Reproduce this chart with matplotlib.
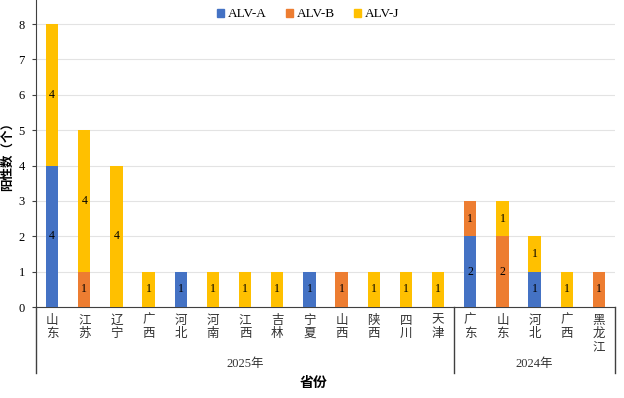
import numpy as np
import matplotlib
matplotlib.use("Agg")
import matplotlib.pyplot as plt
from matplotlib.patches import Patch
import matplotlib.transforms as mtransforms

plt.rcParams['font.family'] = ['Liberation Serif', 'Noto Sans CJK SC']

# data
provinces = ["山东", "江苏", "辽宁", "广西", "河北", "河南", "江西", "吉林", "宁夏",
             "山西", "陕西", "四川", "天津",
             "广东", "山东", "河北", "广西", "黑龙江"]
years = ["2025年", "2024年"]
year_counts = [13, 5]
alv_a = [4, 0, 0, 0, 1, 0, 0, 0, 1, 0, 0, 0, 0, 2, 0, 1, 0, 0]
alv_b = [0, 1, 0, 0, 0, 0, 0, 0, 0, 1, 0, 0, 0, 1, 2, 0, 0, 1]
alv_j = [4, 4, 4, 1, 0, 1, 1, 1, 0, 0, 1, 1, 1, 0, 1, 1, 1, 0]
series = [("ALV-A", alv_a, "#4472C4"), ("ALV-B", alv_b, "#ED7D31"), ("ALV-J", alv_j, "#FFC000")]

fig = plt.figure(figsize=(6.24, 3.98), dpi=100)
ax = fig.add_axes([36 / 624, 91 / 398, 579 / 624, 307 / 398])

x = np.arange(len(provinces))
bottom = np.zeros(len(provinces))
for name, vals, col in series:
    vals = np.array(vals)
    ax.bar(x, vals, 0.38, bottom=bottom, color=col, zorder=3)
    for xi, b, v in zip(x, bottom, vals):
        if v > 0:
            ax.text(xi, b + v / 2, str(v), ha='center', va='center', fontsize=8.5, zorder=4)
    bottom += vals

ax.set_xlim(-0.5, len(provinces) - 0.5)
ax.set_ylim(0, 8.68)
ax.set_yticks(range(9))
ax.tick_params(axis='y', length=3, color='#404040', labelsize=9, pad=5)
ax.set_xticks([])
ax.yaxis.grid(True, color='#e3e3e3', linewidth=0.8, zorder=0)
for s in ['top', 'right']:
    ax.spines[s].set_visible(False)
ax.spines['left'].set_color('#404040')
ax.spines['bottom'].set_color('#404040')

trans = mtransforms.blended_transform_factory(ax.transData, ax.transAxes)
# category labels, vertical characters
for xi, p in zip(x, provinces):
    ax.text(xi, -0.025, "\n".join(p), transform=trans, ha='center', va='top',
            fontsize=9, linespacing=1.15, color='#333333')

# group separator lines and year labels
edges = np.concatenate([[0], np.cumsum(year_counts)]) - 0.5
for e in edges:
    ax.plot([e, e], [0, -0.215], transform=trans, color='#404040', lw=1, clip_on=False)
for i, yr in enumerate(years):
    ax.text((edges[i] + edges[i + 1]) / 2, -0.185, yr, transform=trans, ha='center',
            va='center', fontsize=9, color='#333333')

ax.text(0.48, -0.25, "省份", transform=ax.transAxes, ha='center', va='center',
        fontsize=10, fontweight='bold')
fig.text(8 / 624, (398 - 153) / 398, "阳性数（个）", rotation=90, ha='center',
         va='center', fontsize=9, fontweight='bold')

handles = [Patch(color=c, label=n) for n, _, c in series]
ax.legend(handles=handles, loc='center', bbox_to_anchor=(0.47, 0.953), ncol=3,
          frameon=False, fontsize=9.5, handlelength=0.55, handleheight=0.55,
          handletextpad=0.3, columnspacing=1.4)

fig.savefig("out.png", dpi=100)
